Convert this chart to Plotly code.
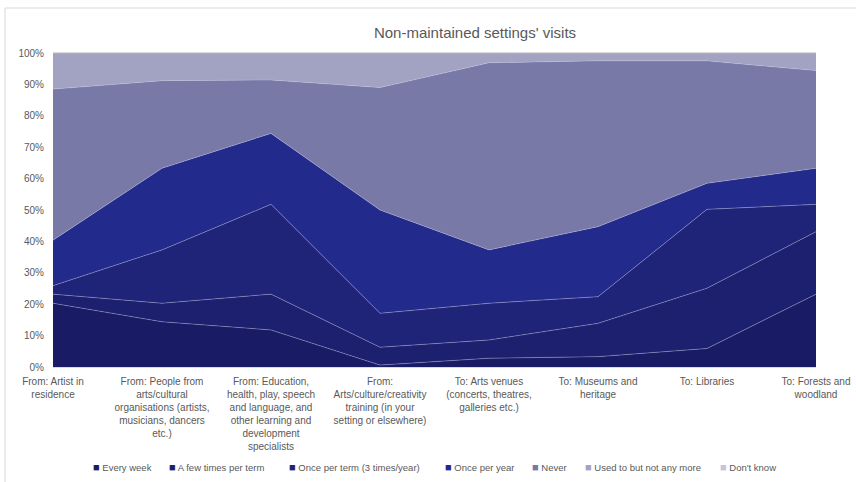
import plotly.graph_objects as go

categories = [
    "From: Artist in<br>residence",
    "From: People from<br>arts/cultural<br>organisations (artists,<br>musicians, dancers<br>etc.)",
    "From: Education,<br>health, play, speech<br>and language, and<br>other learning and<br>development<br>specialists",
    "From:<br>Arts/culture/creativity<br>training (in your<br>setting or elsewhere)",
    "To: Arts venues<br>(concerts, theatres,<br>galleries etc.)",
    "To: Museums and<br>heritage",
    "To: Libraries",
    "To: Forests and<br>woodland",
]
y_ticks = [0, 10, 20, 30, 40, 50, 60, 70, 80, 90, 100]
y_tick_labels = ["0%", "10%", "20%", "30%", "40%", "50%", "60%", "70%", "80%", "90%", "100%"]

every_week = [20.3, 14.4, 11.8, 0.6, 2.8, 3.3, 5.9, 23.2]
few_times = [2.9, 5.9, 11.4, 5.7, 5.8, 10.6, 19.2, 19.9]
once_term = [2.7, 17.0, 28.6, 10.8, 11.7, 8.5, 25.1, 8.7]
once_year = [14.5, 26.0, 22.6, 32.9, 17.0, 22.3, 8.3, 11.5]
never = [48.1, 27.9, 17.0, 39.0, 59.6, 52.8, 39.0, 31.1]
used_to = [11.5, 8.8, 8.6, 11.0, 3.1, 2.5, 2.5, 5.6]
dont_know = [0, 0, 0, 0, 0, 0, 0, 0]

series = [
    ("Every week", every_week, "#191b64", 31),
    ("A few times per term", few_times, "#1d1f6f", 75),
    ("Once per term (3 times/year)", once_term, "#202479", 111),
    ("Once per year", once_year, "#222b8b", 42),
    ("Never", never, "#7879a7", 8),
    ("Used to but not any more", used_to, "#a2a3c2", 90),
    ("Don't know", dont_know, "#c4c4da", 60),
]

font_family = "Liberation Sans, Arial"
grey = "#595959"

xs = list(range(len(categories)))
fig = go.Figure()
for name, vals, col, lw in series:
    fig.add_trace(go.Scatter(
        x=xs, y=vals, name=name, stackgroup="one", groupnorm="percent",
        mode="lines", line=dict(color="rgba(200,200,235,0.45)", width=0.8),
        fillcolor=col, showlegend=False, hoverinfo="skip",
    ))
for name, vals, col, lw in series:
    fig.add_trace(go.Scatter(
        x=[None], y=[None],
        name=f'<span style="color:{col};font-size:11px">■</span> {name}',
        mode="markers",
        marker=dict(symbol="square", size=0, opacity=0, color="rgba(0,0,0,0)",
                    line=dict(width=0)),
        showlegend=True, legendwidth=lw,
    ))

fig.update_layout(
    width=856, height=482,
    margin=dict(l=53, r=40, t=53, b=115),
    paper_bgcolor="white", plot_bgcolor="white",
    font=dict(family=font_family, size=10, color=grey),
    title=dict(text="Non-maintained settings' visits", x=475 / 856, xanchor="center",
               y=1 - 33 / 482, yanchor="middle",
               font=dict(size=15, color=grey, family=font_family)),
    xaxis=dict(range=[0, 7], tickvals=xs, ticktext=categories, tickangle=0,
               showgrid=False, showline=True, linecolor="#d9d9d9", mirror=True,
               ticks="", tickfont=dict(size=10, color=grey), zeroline=False,
               automargin=False, ticklabelstandoff=5),
    yaxis=dict(range=[0, 100], tickvals=y_ticks, ticktext=y_tick_labels,
               showgrid=True, gridcolor="#d9d9d9", zeroline=False,
               tickfont=dict(size=10, color=grey), ticks="",
               automargin=False, ticklabelstandoff=8),
    legend=dict(orientation="h", x=0, xanchor="left",
                yref="container", y=1 - 467 / 482, yanchor="middle",
                font=dict(size=9.5, color=grey),
                itemwidth=30, tracegroupgap=0, traceorder="normal",
                bgcolor="rgba(0,0,0,0)"),
    showlegend=True,
)

fig.add_shape(type="rect", xref="paper", yref="paper",
              x0=-48 / 763, x1=1.2, y0=-0.5, y1=(367 - 8) / 314,
              line=dict(color="#d9d9d9", width=1), fillcolor="rgba(0,0,0,0)", layer="below")

fig.write_html("out.html", config={"displayModeBar": False},
               post_script="document.body.style.margin='0';document.body.style.overflow='hidden';")
